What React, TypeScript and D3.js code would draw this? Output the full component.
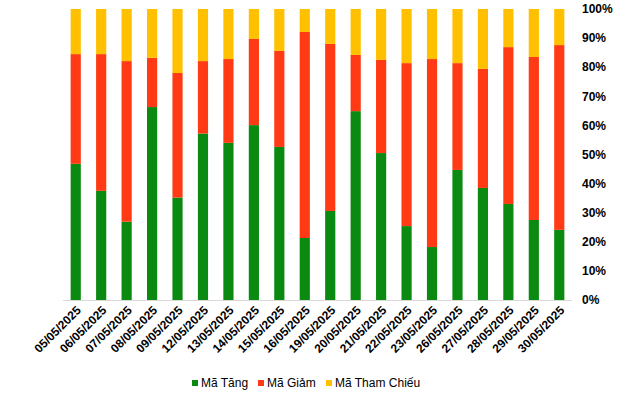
import React, { useEffect, useRef } from "react";
import * as d3 from "d3";

const dates = [
  "05/05/2025", "06/05/2025", "07/05/2025", "08/05/2025", "09/05/2025",
  "12/05/2025", "13/05/2025", "14/05/2025", "15/05/2025", "16/05/2025",
  "19/05/2025", "20/05/2025", "21/05/2025", "22/05/2025", "23/05/2025",
  "26/05/2025", "27/05/2025", "28/05/2025", "29/05/2025", "30/05/2025",
];

// percentages
const maTang = [46.8, 37.5, 26.9, 66.3, 35.2, 57.2, 54.0, 60.1, 52.6, 21.3, 30.6, 64.9, 50.5, 25.4, 18.2, 44.7, 38.5, 33.0, 27.5, 24.1];
const maGiam = [37.7, 47.0, 55.2, 16.9, 42.8, 24.9, 28.8, 29.6, 33.0, 70.8, 57.4, 19.3, 32.0, 56.0, 64.6, 36.7, 40.9, 53.9, 56.0, 63.5];
const maThamChieu = [15.5, 15.5, 17.9, 16.8, 22.0, 17.9, 17.2, 10.3, 14.4, 7.9, 12.0, 15.8, 17.5, 18.6, 17.2, 18.6, 20.6, 13.1, 16.5, 12.4];

const seriesNames = ["Mã Tăng", "Mã Giảm", "Mã Tham Chiếu"];
const seriesColors = ["#0B8A12", "#FF3A14", "#FFC000"];
const yTicks = [0, 10, 20, 30, 40, 50, 60, 70, 80, 90, 100];

export default function App() {
  const svgRef = useRef<SVGSVGElement>(null);
  const width = 640;
  const height = 393;
  const margin = { top: 9, right: 68, bottom: 93, left: 63 };

  useEffect(() => {
    if (!svgRef.current) return;
    const svg = d3.select(svgRef.current);
    svg.selectAll("*").remove();

    const font = "'Liberation Sans', Arial, sans-serif";
    const rows = dates.map((d, i) => ({ date: d, tang: maTang[i], giam: maGiam[i], tham: maThamChieu[i] }));
    const stack = d3.stack<any>().keys(["tang", "giam", "tham"]).offset(d3.stackOffsetExpand);
    const layers = stack(rows);

    const x = d3.scaleBand().domain(dates).range([margin.left, width - margin.right]).paddingInner(0.6).paddingOuter(0.3);
    const y = d3.scaleLinear().domain([0, 1]).range([height - margin.bottom, margin.top]);

    const g = svg.append("g");

    layers.forEach((layer, k) => {
      g.append("g")
        .selectAll("rect")
        .data(layer)
        .enter().append("rect")
        .attr("x", (d: any) => x(d.data.date) || 0)
        .attr("width", x.bandwidth())
        .attr("y", (d: any) => y(d[1]))
        .attr("height", (d: any) => y(d[0]) - y(d[1]))
        .attr("fill", seriesColors[k]);
    });

    // baseline
    g.append("line")
      .attr("x1", margin.left).attr("x2", width - margin.right)
      .attr("y1", y(0) + 0.5).attr("y2", y(0) + 0.5)
      .attr("stroke", "#D9D9D9").attr("stroke-width", 1);

    // right axis labels
    g.append("g")
      .selectAll("text")
      .data(yTicks)
      .enter().append("text")
      .attr("x", width - margin.right + 10)
      .attr("y", d => y(d / 100))
      .attr("dy", "0.35em")
      .attr("font-family", font).attr("font-size", 12).attr("font-weight", "bold")
      .attr("fill", "#000")
      .text(d => `${d}%`);

    // date labels
    g.append("g")
      .selectAll("text")
      .data(dates)
      .enter().append("text")
      .attr("transform", d => `translate(${(x(d) || 0) + x.bandwidth() / 2 + 6},${y(0) + 11}) rotate(-45)`)
      .attr("text-anchor", "end")
      .attr("font-family", font).attr("font-size", 12).attr("font-weight", "bold")
      .attr("fill", "#000")
      .text(d => d);

    // legend
    const legendX = [192, 258, 326];
    const lg = g.append("g");
    seriesNames.forEach((name, i) => {
      lg.append("rect")
        .attr("x", legendX[i]).attr("y", 380)
        .attr("width", 6).attr("height", 6)
        .attr("fill", seriesColors[i]);
      lg.append("text")
        .attr("x", legendX[i] + 9).attr("y", 387)
        .attr("font-family", font).attr("font-size", 12)
        .attr("fill", "#000")
        .text(name);
    });
  }, []);

  return (
    <div style={{ position: "absolute", left: 0, top: 0 }}>
      <svg ref={svgRef} width={width} height={height} style={{ display: "block", background: "#fff" }} />
    </div>
  );
}
